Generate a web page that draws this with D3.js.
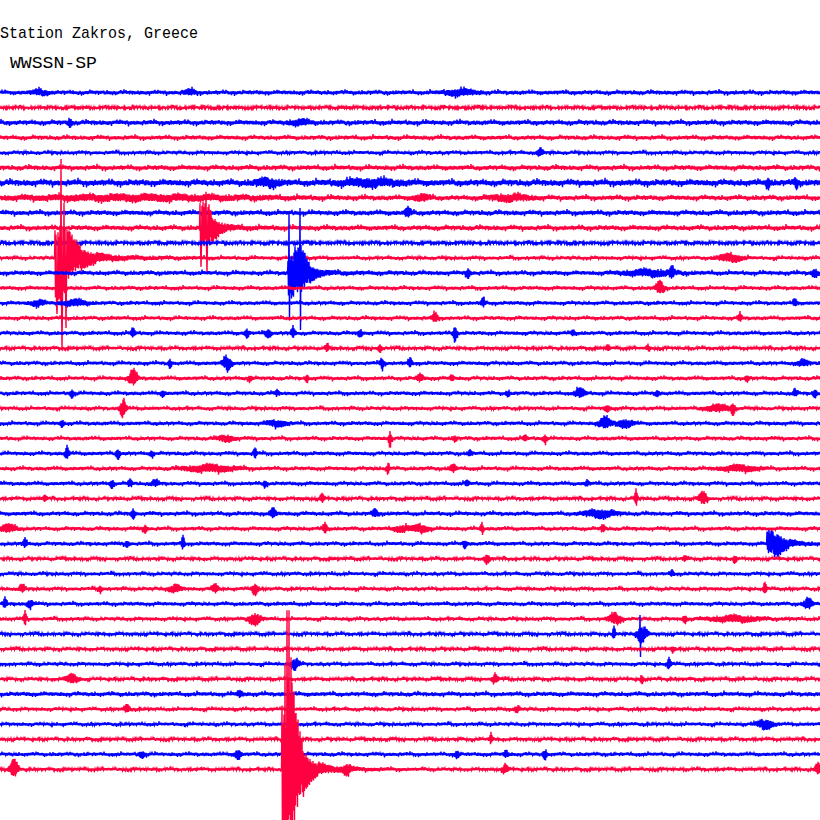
<!DOCTYPE html>
<html><head><meta charset="utf-8">
<script src="https://cdn.jsdelivr.net/npm/d3@7"></script>
<style>html,body{margin:0;padding:0;background:#fff;overflow:hidden} svg{display:block}</style>
</head><body>
<script>
// ---------------- data ----------------
const title = "Station Zakros, Greece";
const subtitle = "WWSSN-SP";
const lineCount = 46;                       // helicorder lines, 30 min each
const lineSeconds = 1800;
const traceColors = ["#0000ff", "#ff0040"]; // alternating blue / red

// background noise half-amplitude (counts) per line
const noiseLevel = [1.8,1.3,2.0,1.8,1.5,2.0,2.6,2.0,2.0,2.0,1.3,1.5,1.8,1.6,1.6,1.6,
  1.6,1.4,1.6,1.6,1.6,1.5,1.6,1.6,1.6,1.6,1.6,1.4,1.7,1.6,1.6,1.4,1.5,1.5,1.6,1.5,
  1.4,1.4,1.5,1.4,1.8,1.5,1.5,1.4,1.6,1.4];

// small bursts: [line, second, amplitude, half-width seconds]
const bursts = [
 [0,80,2.5,16],[0,380,2.5,12],[0,920,3,30],
 [2,140,4,4],[2,600,2.5,20],
 [4,1080,4,6],
 [6,536,3.5,24],[6,740,3,60],[6,1536,5,4],[6,1592,5,4],
 [7,280,2.5,240],[7,844,3,16],[7,1020,3,40],
 [8,816,5,6],
 [11,1460,4,24],
 [12,936,5,4],[12,1300,3,50],[12,1344,6,4],[12,1630,4,6],
 [13,1320,7,8],
 [14,76,3,14],[14,150,3,24],[14,966,5,4],[14,1590,4,4],
 [15,870,5,6],[15,1480,4,4],
 [16,266,5,4],[16,494,5,4],[16,536,4,6],[16,586,6,4],[16,720,4,4],[16,910,8,4],[16,1146,3,4],
 [17,654,4,4],[17,760,4,4],[17,1216,3,4],[17,1296,3,4],
 [18,454,8,8],[18,340,5,3],[18,764,6,4],[18,820,5,4],[18,1606,3,12],
 [19,266,9,8],[19,500,3,4],[19,614,4,3],[19,840,4,6],[19,904,3,4],[19,1494,3,4],
 [20,144,4,4],[20,326,3,4],[20,554,3,4],[20,1016,3,4],[20,1160,5,10],[20,1314,3,4],[20,1590,4,4],[20,1630,4,4],
 [21,246,10,6],[21,1214,3,6],[21,1436,3.5,24],[21,1466,6,4],
 [22,124,3,4],[22,554,3,20],[22,1210,6,12],[22,1250,4,16],
 [23,452,3,16],[23,780,9,3],[23,910,3,4],[23,1050,3,4],[23,1090,4,4],
 [24,134,7,4],[24,236,5,4],[24,304,3,4],[24,510,6,3],[24,940,3,4],
 [25,420,3.5,50],[25,776,6,3],[25,906,4,6],[25,1480,3,36],
 [26,224,4,4],[26,260,4,4],[26,310,3,8],[26,530,3,4],[26,934,3,4],[26,1174,3,4],
 [27,90,3,4],[27,644,5,4],[27,1272,9,3],[27,1406,7,8],
 [28,266,5,4],[28,546,5,6],[28,750,4,6],[28,1200,4,30],
 [29,16,4,16],[29,290,4,4],[29,650,6,4],[29,804,3,16],[29,840,4,16],[29,964,6,3],[29,1206,4,4],
 [30,50,5,4],[30,254,3,4],[30,366,8,3],[30,930,4,4],
 [31,974,5,6],[31,1370,3,4],[31,1470,4,4],
 [32,1344,3,4],
 [33,44,4,6],[33,200,3,4],[33,350,4,12],[33,430,5,6],[33,510,6,6],[33,1530,7,3],
 [34,10,5,4],[34,60,4,6],[34,1616,6,8],
 [35,50,8,3],[35,510,6,12],[35,1230,6,12],[35,1370,4,4],[35,1470,3,50],
 [36,1228,7,3],[36,1284,9,10],
 [37,1346,3,4],
 [38,590,6,8],[38,1338,6,4],
 [39,144,5,12],[39,990,5,6],[39,1284,5,3],
 [40,480,3,6],
 [41,254,4,6],[41,1034,3,6],
 [42,1530,5,16],
 [43,982,6,3],
 [44,284,3,6],[44,476,5,6],[44,914,4,4],[44,1012,4,4],[44,1090,5,4],
 [45,28,10,8],[45,694,5,8],[45,1010,5,6],[45,1636,6,6]
];

// earthquakes: [line, onset second, plateau seconds, amplitude, decay seconds]
const quakes = [
 [11,110,12,45,26],
 [9,400,16,24,14],
 [12,576,28,25,14],
 [45,564,20,90,16],
 [30,1534,22,12,16]
];

// single large excursions: [line, second, value (counts, + = up)]
const peaks = [
 [11,122,99],[11,124,-92],[11,114,-56],[11,132,-70],[11,128,55],
 [9,412,36],[9,402,-39],[9,414,-45],
 [12,578,60],[12,579,-47],[12,600,65],[12,601,-57],
 [45,574,159],[45,578,159],[45,570,106],[45,582,112],
 [30,1544,13],
 [36,1280,19],[36,1281,-23]
];

// fixed wiggle patterns for the trace texture
const jitterA = [0.95,0.6,0.85,0.5,1.0,0.7,0.8,0.55,0.9,0.45,0.85,0.7,1.0,0.5,0.75,0.6,
  0.95,0.65,0.8,0.45,0.9,0.75,0.6,1.0,0.55,0.85,0.5,0.8,0.7,0.95,0.6];
const jitterB = [1,0.8,1.1,0.9,1.6,1,0.85,1.2,0.95,1,1.9,0.9,1.05,0.8,1.3,1,0.9];

// ---------------- chart ----------------
const W = 820, H = 820;
const svg = d3.select("body").append("svg").attr("width", W).attr("height", H);

const x = d3.scaleLinear().domain([0, lineSeconds]).range([0, 900]);
const yLine = d3.scaleLinear().domain([0, lineCount - 1]).range([92.5, 769.3]);
const amp = d3.scaleLinear().domain([-100, 100]).range([100, -100]); // counts -> px offset

const lastSec = Math.ceil(x.invert(W)) + 2;

function envelope(li, t) {
  let e = 0;
  for (const b of bursts) if (b[0] === li) {
    const d = (t - b[1]) / b[3];
    if (Math.abs(d) < 4) e += b[2] * Math.exp(-d * d);
  }
  for (const q of quakes) if (q[0] === li && t >= q[1]) {
    const dt = t - q[1] - q[2];
    if (dt <= 0) e += q[3];
    else e += q[3] * Math.exp(-dt / q[4]) + 0.08 * q[3] * Math.exp(-dt / (q[4] * 4));
  }
  return e;
}

const series = d3.range(lineCount).map(li => {
  const off = li * 7;
  const pk = new Map(peaks.filter(p => p[0] === li).map(p => [p[1], p[2]]));
  const pts = [];
  for (let t = 0; t <= lastSec; t++) {
    let v;
    if (pk.has(t)) v = pk.get(t);
    else {
      const s = (t % 2 === 0) ? 1 : -1;
      const a = jitterA[(t + off) % jitterA.length];
      const b = jitterB[(t + 3 * off) % jitterB.length];
      v = s * a * (noiseLevel[li] * b + envelope(li, t));
    }
    pts.push([t, v]);
  }
  return { li, pts };
});

const line = d3.line().x(d => x(d[0]));

svg.append("g").selectAll("path")
  .data(series)
  .join("path")
  .attr("fill", "none")
  .attr("stroke", d => traceColors[d.li % 2])
  .attr("stroke-width", 1.4)
  .attr("stroke-linejoin", "miter")
  .attr("d", d => line.y(p => yLine(d.li) + amp(p[1]))(d.pts));

svg.append("text")
  .attr("x", 0).attr("y", 38)
  .attr("font-family", "Liberation Mono, monospace")
  .attr("font-size", 17)
  .attr("fill", "#000")
  .attr("textLength", 198).attr("lengthAdjust", "spacingAndGlyphs")
  .text(title);

svg.append("text")
  .attr("x", 10).attr("y", 68)
  .attr("font-family", "Liberation Mono, monospace")
  .attr("font-size", 17)
  .attr("fill", "#000")
  .attr("textLength", 87).attr("lengthAdjust", "spacingAndGlyphs")
  .text(subtitle);
</script>
</body></html>
